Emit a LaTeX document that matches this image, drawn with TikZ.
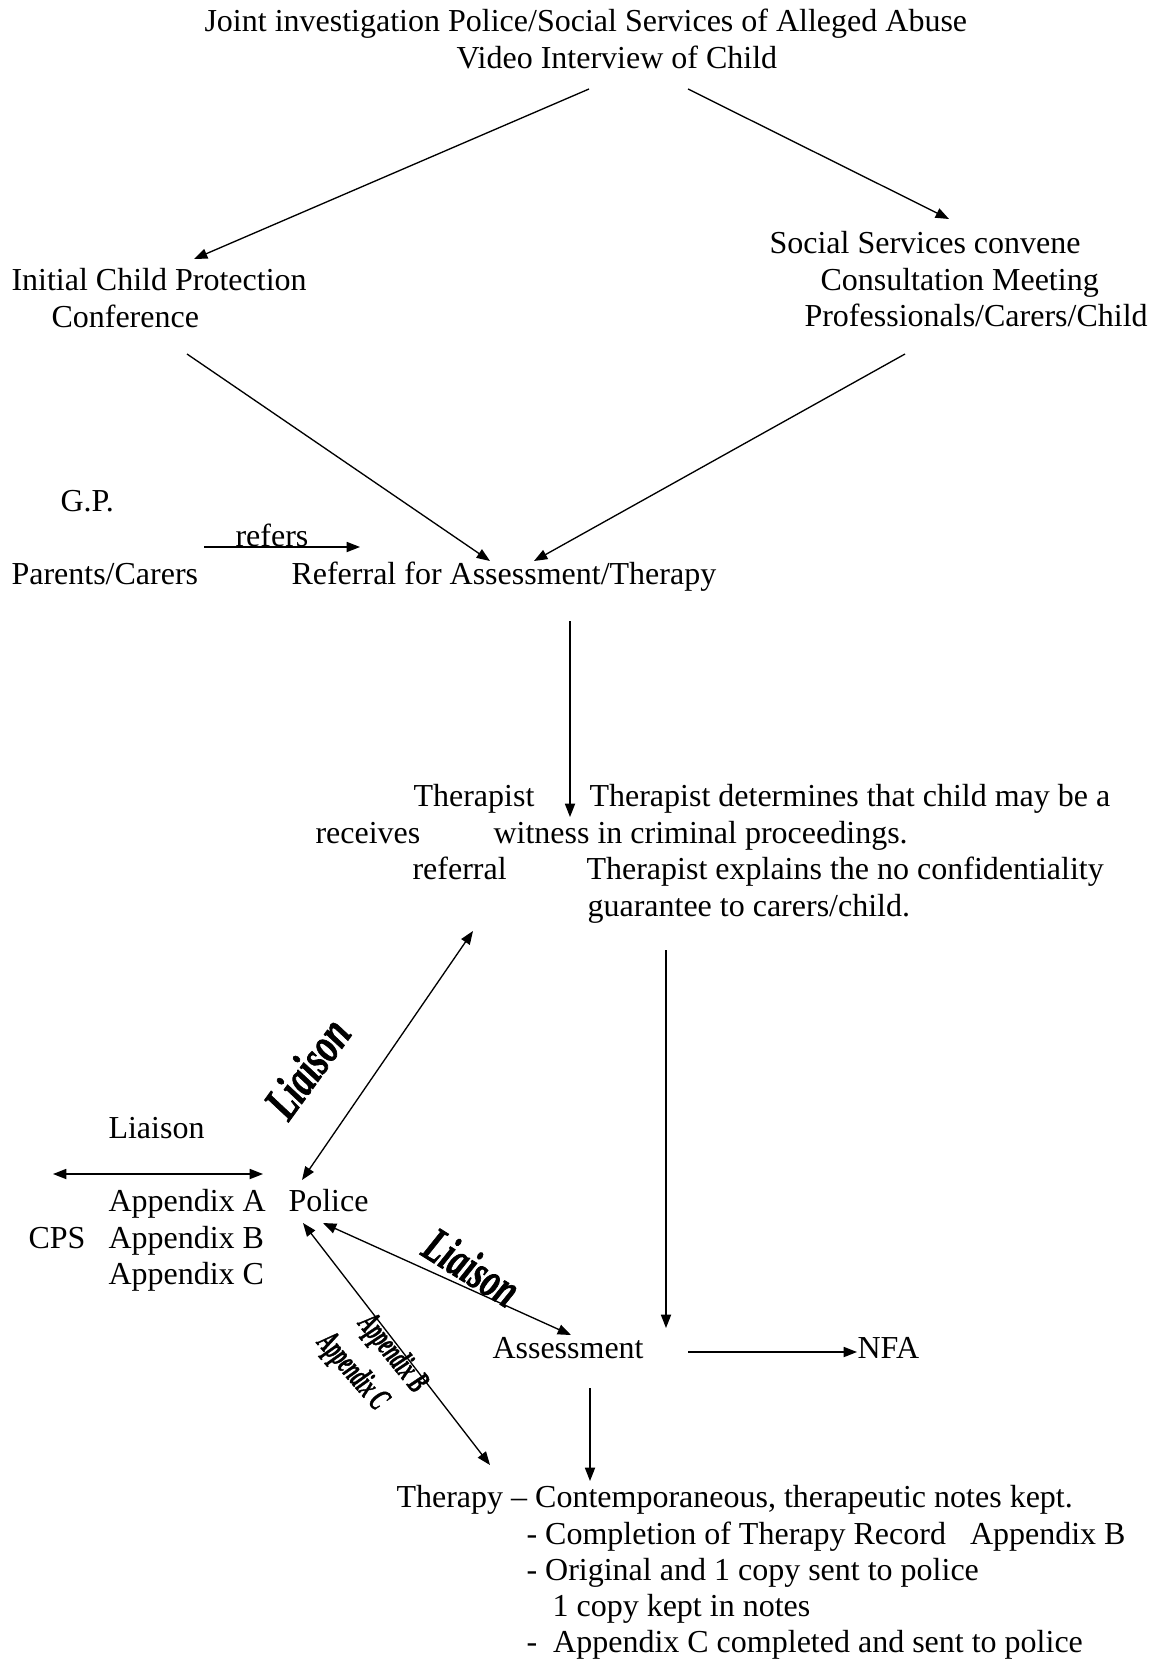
\documentclass[tikz,border=0pt]{standalone}
\usepackage{fontspec}
\setmainfont{Liberation Serif}
\newfontface\lblfont{Liberation Serif Bold Italic}[FakeBold=1.6]
\usetikzlibrary{arrows.meta}
\begin{document}
\begin{tikzpicture}[x=0.375pt,y=-0.375pt,
  txt/.style={anchor=base west,inner sep=0pt,font=\fontsize{12}{13.8}\selectfont},
  rotlbl/.style={inner sep=0pt,font=\fontsize{12}{13.8}\lblfont},
  arr/.style={-{Triangle[length=5pt,width=3.8pt]},line width=0.5pt},
  darr/.style={{Triangle[length=5pt,width=3.8pt]}-{Triangle[length=5pt,width=3.8pt]},line width=0.5pt}]
\useasboundingbox (0,0) rectangle (1152,1659);
% texts
\node[txt] (t1) at (204,32) {Joint investigation Police/Social Services of Alleged Abuse};
\node[txt] (t2) at (456,69) {Video Interview of Child};
\node[txt] (icp1) at (11,290) {Initial Child Protection};
\node[txt] (icp2) at (51,327) {Conference};
\node[txt] (ss1) at (769,254) {Social Services convene};
\node[txt] (ss2) at (820,290) {Consultation Meeting};
\node[txt] (ss3) at (804,326) {Professionals/Carers/Child};
\node[txt] (gp) at (60,511) {G.P.};
\node[txt] (refers) at (235,546) {refers};
\node[txt] (pc) at (11,584) {Parents/Carers};
\node[txt] (ref) at (291,584) {Referral for Assessment/Therapy};
\node[txt] (th1) at (413,806) {Therapist};
\node[txt] (th1b) at (589,806) {Therapist determines that child may be a};
\node[txt] (th2) at (315,843) {receives};
\node[txt] (th2b) at (493,843) {witness in criminal proceedings.};
\node[txt] (th3) at (412,879) {referral};
\node[txt] (th3b) at (586,879) {Therapist explains the no confidentiality};
\node[txt] (th4b) at (587,916) {guarantee to carers/child.};
\node[txt] (liai) at (108,1138) {Liaison};
\node[txt] (appa) at (108,1211) {Appendix A};
\node[txt] (police) at (288,1211) {Police};
\node[txt] (cps) at (28,1248) {CPS};
\node[txt] (appb) at (108,1248) {Appendix B};
\node[txt] (appc) at (108,1284) {Appendix C};
\node[txt] (assess) at (492,1358) {Assessment};
\node[txt] (nfa) at (857,1358) {NFA};
\node[txt] (tp1) at (396,1507) {Therapy -- Contemporaneous, therapeutic notes kept.};
\node[txt] (tp2) at (526,1544) {- Completion of Therapy Record \ \ Appendix B};
\node[txt] (tp3) at (526,1580) {- Original and 1 copy sent to police};
\node[txt] (tp4) at (552,1616) {1 copy kept in notes};
\node[txt] (tp5) at (526,1652) {- \ Appendix C completed and sent to police};
% rotated labels
\node[rotlbl,rotate=54] (rl1) at (307,1068) {\scalebox{1.1}[1.55]{Liaison}};
\node[rotlbl,rotate=-32] (rl2) at (472,1267) {\scalebox{1.03}[1.55]{Liaison}};
\node[rotlbl,rotate=-51] (rl3) at (392,1354) {\scalebox{0.58}[1.05]{Appendix B}};
\node[rotlbl,rotate=-49] (rl4) at (352,1372) {\scalebox{0.58}[1.05]{Appendix C}};
% connector end points
\coordinate (a1s) at (589,89);  \coordinate (a1e) at (194,259);
\coordinate (a2s) at (688,89);  \coordinate (a2e) at (949,219);
\coordinate (a3s) at (187,354); \coordinate (a3e) at (490,561);
\coordinate (a4s) at (905,354); \coordinate (a4e) at (534,561);
\coordinate (rfs) at (204,547); \coordinate (rfe) at (360,547);
\coordinate (a5s) at (570,621); \coordinate (a5e) at (570,817);
\coordinate (l1s) at (473,931); \coordinate (l1e) at (302,1180);
\coordinate (v2s) at (666,950); \coordinate (v2e) at (666,1328);
\coordinate (cps1) at (53,1174); \coordinate (cps2) at (263,1174);
\coordinate (pa1) at (323,1223); \coordinate (pa2) at (571,1335);
\coordinate (pt1) at (303,1223); \coordinate (pt2) at (490,1465);
\coordinate (nf1) at (688,1352); \coordinate (nf2) at (857,1352);
\coordinate (at1) at (590,1388); \coordinate (at2) at (590,1481);
% connectors
\draw[arr] (a1s) -- (a1e);
\draw[arr] (a2s) -- (a2e);
\draw[arr] (a3s) -- (a3e);
\draw[arr] (a4s) -- (a4e);
\draw[arr] (rfs) -- (rfe);
\draw[arr] (a5s) -- (a5e);
\draw[darr] (l1s) -- (l1e);
\draw[arr] (v2s) -- (v2e);
\draw[darr] (cps1) -- (cps2);
\draw[darr] (pa1) -- (pa2);
\draw[darr] (pt1) -- (pt2);
\draw[arr] (nf1) -- (nf2);
\draw[arr] (at1) -- (at2);
\end{tikzpicture}
\end{document}
